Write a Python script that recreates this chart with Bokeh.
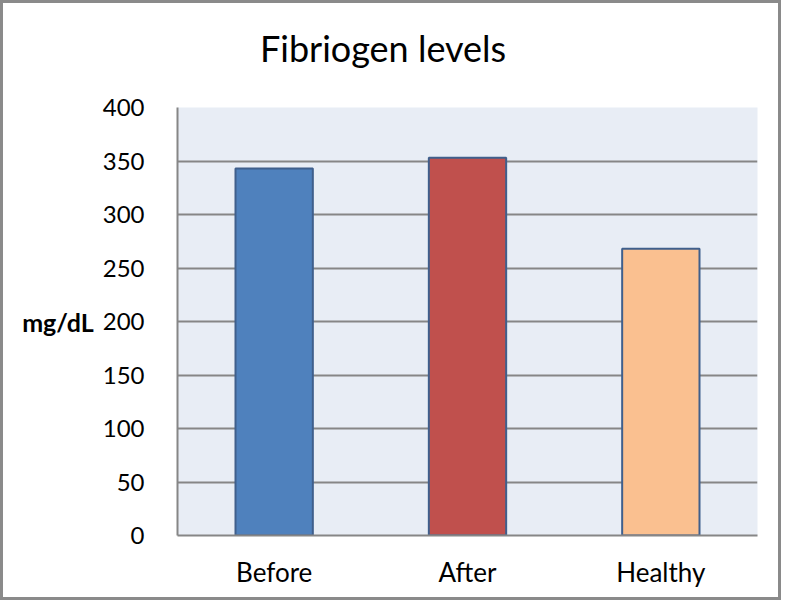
from bokeh.plotting import figure
from bokeh.models import ColumnDataSource, FixedTicker, Div
from bokeh.layouts import column
from bokeh.embed import file_html
from bokeh.resources import INLINE

categories = ["Before", "After", "Healthy"]
values = [343, 353, 268]
colors = ["#4F81BD", "#C0504D", "#FAC090"]
y_ticks = [0, 50, 100, 150, 200, 250, 300, 350, 400]
title_text = "Fibriogen levels"

src = ColumnDataSource(dict(cat=categories, val=values, col=colors))

title_div = Div(
    text=('<div style="padding-top:27px; padding-left:260px; font-family:Lato; '
          'font-size:36px; line-height:1.2; color:black; white-space:nowrap">'
          + title_text + '</div>'),
    width=781, height=80, margin=0)

p = figure(width=781, height=520, x_range=categories, y_range=(0, 400),
           output_backend="svg", toolbar_location=None, title=None,
           min_border_left=177, min_border_right=24, min_border_top=27,
           min_border_bottom=65, margin=0)

p.background_fill_color = "#E8EDF5"
p.border_fill_color = None
p.outline_line_color = None

p.vbar(x="cat", top="val", width=0.4, source=src, fill_color="col",
       line_color="#3F5F8C", line_width=2)

p.xgrid.grid_line_color = None
p.ygrid.grid_line_color = "#868686"
p.ygrid.grid_line_width = 2
p.ygrid.ticker = FixedTicker(ticks=y_ticks)

p.yaxis.ticker = FixedTicker(ticks=y_ticks)
p.yaxis.axis_label = "mg/dL"
p.yaxis.axis_label_orientation = "horizontal"
p.yaxis.axis_label_text_font = "Lato"
p.yaxis.axis_label_text_font_size = "25px"
p.yaxis.axis_label_text_font_style = "bold"
p.yaxis.axis_label_text_color = "black"
p.yaxis.axis_label_standoff = 6
p.yaxis.major_label_text_font = "Lato"
p.yaxis.major_label_text_font_size = "24px"
p.yaxis.major_label_text_color = "black"
p.yaxis.major_label_standoff = 27

for ax in (p.xaxis, p.yaxis):
    ax.axis_line_color = "#868686"
    ax.axis_line_width = 2
    ax.major_tick_line_color = None
    ax.minor_tick_line_color = None

p.xaxis.major_label_text_font = "Lato"
p.xaxis.major_label_text_font_size = "26px"
p.xaxis.major_label_text_color = "black"
p.xaxis.major_label_standoff = 14

layout = column(title_div, p, spacing=0,
                styles={"outline": "3px solid #8a8a8a",
                        "outline-offset": "-3px",
                        "background-color": "white"})

open("out.html", "w").write(file_html(layout, INLINE))
